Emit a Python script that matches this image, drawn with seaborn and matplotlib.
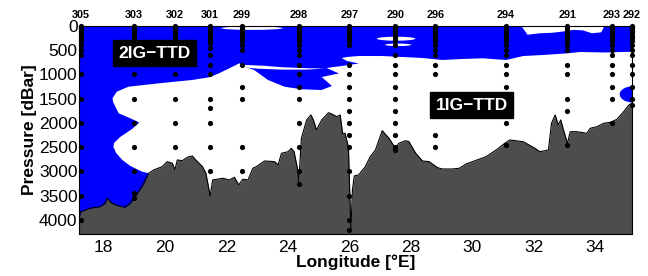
import numpy as np
import pandas as pd
import matplotlib
matplotlib.use('Agg')
import matplotlib.pyplot as plt
from matplotlib.patches import Ellipse, Polygon
import seaborn as sns

# ------ Stations (name, longitude, sample pressures) ------
station_names = ['305', '303', '302', '301', '299', '298', '297', '290', '296', '294', '291', '293', '292']
station_lon = [17.25, 19.0, 20.32, 21.47, 22.5, 24.35, 26.0, 27.5, 28.8, 31.09, 33.1, 34.55, 35.2]
surface = [0, 25, 50, 75, 100, 125, 150, 200, 250]
station_depths = [
    surface + [300, 400, 500, 600, 1000, 1500, 2000, 2500, 3000, 3500, 4000],
    surface + [1000, 1500, 2000, 2500, 3000, 3450, 3550],
    surface + [1000, 1500, 2000, 2500],
    surface + [300, 350, 450, 600, 800, 1000, 1500, 1700, 2000, 2500, 3000],
    surface + [300, 400, 500, 800, 1250, 1500, 2500, 3000],
    surface + [300, 400, 500, 600, 800, 1000, 1250, 1500, 2000, 2500, 3000, 3250],
    surface + [300, 400, 800, 1000, 1250, 1500, 1750, 2000, 2250, 2500, 3000, 3500, 4000, 4200],
    surface + [300, 400, 600, 800, 1000, 1250, 1500, 1750, 2000, 2250, 2500, 2550],
    surface + [300, 400, 500, 600, 800, 1000, 2250, 2500],
    surface + [300, 400, 500, 600, 800, 1000, 1250, 1500, 1750, 2000, 2450],
    surface + [300, 400, 500, 800, 1000, 1500, 1750, 2450],
    surface + [300, 400, 500, 600, 800, 1000, 1250, 1500, 2000],
    surface + [300, 400, 500, 600, 800, 1000, 1250, 1500, 1630],
]

# ------ Bathymetry ------
bathy_lon = [17.2, 17.26, 17.56, 17.89, 18.05, 18.12, 18.27, 18.49, 18.70, 18.87, 19.03, 19.25,
             19.47, 19.63, 19.91, 20.07, 20.24, 20.32, 20.40, 20.56, 20.73, 20.89, 21.00, 21.22,
             21.33, 21.47, 21.55, 21.88, 22.09, 22.26, 22.40, 22.53, 22.70, 22.86, 22.97, 23.24,
             23.57, 23.68, 23.79, 24.01, 24.11, 24.20, 24.33, 24.35, 24.44, 24.61, 24.75, 24.83,
             24.93, 25.10, 25.32, 25.43, 25.59, 25.70, 25.78, 25.86, 25.97, 26.02, 26.05, 26.10,
             26.16, 26.30, 26.52, 26.68, 26.85, 27.07, 27.29, 27.50, 27.61, 27.83, 27.94, 28.16,
             28.38, 28.60, 28.87, 29.03, 29.36, 29.58, 29.80, 30.45, 30.78, 31.06, 31.22, 31.66,
             32.04, 32.20, 32.48, 32.58, 32.70, 32.80, 32.88, 32.97, 33.10, 33.19, 33.40, 33.73,
             33.84, 34.06, 34.28, 34.50, 34.71, 34.93, 35.10, 35.28]
bathy_depth = [3950, 3829, 3759, 3726, 3656, 3553, 3656, 3712, 3738, 3656, 3520, 3314,
               3037, 2969, 2901, 2798, 2831, 2969, 2763, 2778, 2707, 2681, 2763, 2901,
               3037, 3505, 3175, 3140, 3175, 3120, 3279, 3161, 3175, 2934, 2901, 2784,
               2798, 2866, 2625, 2592, 2522, 2592, 3004, 3243, 2316, 1938, 1835, 1938,
               2144, 1938, 1788, 1815, 1870, 1835, 2213, 2213, 2500, 3588, 4206, 3382,
               3093, 3072, 2901, 2695, 2557, 2159, 2316, 2522, 2419, 2365, 2386, 2625,
               2784, 2798, 2922, 2949, 2949, 2934, 2846, 2695, 2557, 2419, 2351, 2386,
               2522, 2592, 2557, 2006, 1835, 2041, 1938, 2144, 2419, 2180, 2180, 2213,
               2110, 2076, 2006, 1986, 1924, 1767, 1629, 1561]

# ------ 2IG-TTD (blue) region outline ------
blue_lon = [17.2, 35.3, 35.3, 34.93, 34.28, 33.52, 33.10, 32.31, 31.66, 31.10, 30.34, 29.69,
            29.03, 28.38, 27.72, 27.07, 26.31, 25.92, 25.75, 25.92, 26.31, 25.75, 25.26, 25.66,
            25.10, 25.43, 25.10, 24.44, 23.89, 23.35, 22.90, 22.53, 22.42, 22.20, 21.76, 21.44,
            20.89, 19.80, 18.81, 18.43, 18.29, 18.31, 18.49, 18.92, 19.16, 18.93, 18.54, 18.34,
            18.32, 18.41, 18.61, 18.87, 19.25, 19.47, 19.6, 17.2]
blue_depth = [0, 0, 530, 536, 546, 536, 563, 598, 619, 701, 666, 680,
              701, 660, 639, 619, 619, 639, 660, 722, 773, 825, 866, 979,
              1052, 1237, 1320, 1305, 1252, 1113, 907, 825, 769, 839, 975, 1058,
              1113, 1182, 1252, 1355, 1491, 1567, 1800, 1918, 1990, 2124, 2289, 2413,
              2495, 2619, 2763, 2887, 3004, 3037, 4400, 4400]

# white patches inside the blue layer
top_white_lon = [31.6, 34.3, 34.2, 33.9, 33.6, 33.3, 33.0, 32.6, 32.2, 31.8, 31.6]
top_white_depth = [0, 0, 130, 150, 90, 80, 110, 140, 150, 180, 0]
finger_lon = [22.5, 23.2, 23.8, 24.6, 25.2, 24.6, 23.8, 23.0, 22.5]
finger_depth = [800, 820, 850, 870, 880, 900, 900, 880, 850]
# (center lon, center depth, width lon, height dbar)
white_lenses = [(22.83, 45, 2.0, 70), (27.52, 262, 1.25, 82), (27.59, 388, 0.86, 50)]
blue_blob = (35.25, 1410, 0.9, 340)

BLUE = '#0000FF'
GREY = '#4d4d4d'

sns.set_theme(style='white', rc={'text.color': 'black', 'axes.labelcolor': 'black',
                                 'xtick.color': 'black', 'ytick.color': 'black'})
plt.rcParams['font.family'] = ['Liberation Sans', 'DejaVu Sans']

fig = plt.figure(figsize=(6.48, 2.76), dpi=100)
ax = fig.add_axes([0.1219, 0.1522, 0.8534, 0.7536])

ax.add_patch(Polygon(np.column_stack([blue_lon, blue_depth]), closed=True,
                     facecolor=BLUE, edgecolor='none', zorder=1))
ax.add_patch(Polygon(np.column_stack([top_white_lon, top_white_depth]), closed=True,
                     facecolor='white', edgecolor='none', zorder=1.1))
ax.add_patch(Polygon(np.column_stack([finger_lon, finger_depth]), closed=True,
                     facecolor='white', edgecolor='none', zorder=1.1))
for cx, cy, w, h in white_lenses:
    ax.add_patch(Ellipse((cx, cy), w, h, facecolor='white', edgecolor='none', zorder=1.1))
ax.add_patch(Ellipse(blue_blob[:2], blue_blob[2], blue_blob[3], facecolor=BLUE,
                     edgecolor='none', zorder=1.1))

# bathymetry
ax.fill_between(bathy_lon, bathy_depth, 4600, color=GREY, zorder=2, linewidth=0)
sns.lineplot(x=bathy_lon, y=bathy_depth, color='black', linewidth=0.8, ax=ax,
             sort=False, estimator=None, zorder=3)

# sample points
samples = pd.DataFrame(
    [(lon, d) for lon, ds in zip(station_lon, station_depths) for d in ds],
    columns=['lon', 'depth'])
sns.scatterplot(data=samples, x='lon', y='depth', color='black', s=14,
                edgecolor='black', linewidth=0, ax=ax, zorder=4, clip_on=False)

# station labels above the axes
for name, lon in zip(station_names, station_lon):
    ax.text(lon, 1.055, name, transform=ax.get_xaxis_transform(), ha='center',
            va='center', fontsize=7.8, fontweight='bold')

# model region labels
box = dict(boxstyle='square,pad=0.3', facecolor='black', edgecolor='black')
ax.text(19.66, 560, '2IG\u2212TTD', color='white', fontsize=12.5, fontweight='bold',
        ha='center', va='center', bbox=box, zorder=5)
ax.text(29.98, 1630, '1IG\u2212TTD', color='white', fontsize=12.5, fontweight='bold',
        ha='center', va='center', bbox=box, zorder=5)

ax.set_xlim(17.2, 35.2)
ax.set_ylim(4290, 0)
ax.set_xticks(np.arange(18, 35, 2))
ax.set_yticks(np.arange(0, 4001, 500))
ax.tick_params(axis='both', labelsize=12.5, length=0, colors='black')
ax.tick_params(axis='x', pad=4)
ax.tick_params(axis='y', pad=1)
ax.set_xlabel('Longitude [°E]', fontsize=12.5, fontweight='bold', labelpad=0)
ax.set_ylabel('Pressure [dBar]', fontsize=12.5, fontweight='bold', labelpad=1)
for sp in ax.spines.values():
    sp.set_color('black')
    sp.set_linewidth(0.8)
    sp.set_visible(True)

fig.savefig('out.png', dpi=100)
